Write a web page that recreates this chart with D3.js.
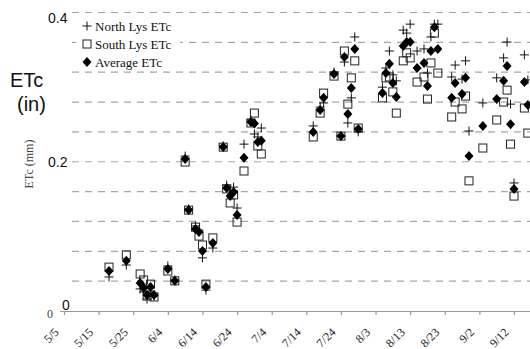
<!DOCTYPE html>
<html>
<head>
<meta charset="utf-8">
<script src="https://cdn.jsdelivr.net/npm/d3@7"></script>
<style>
body { margin: 0; background: #fff; }
svg { display: block; }
</style>
</head>
<body>
<svg id="chart" width="530" height="349"></svg>
<script>
// daily ETc in mm
var dates = ['5/18','5/23','5/27','5/28','5/29','5/30','5/31','6/4','6/6','6/9','6/10','6/12','6/13','6/14','6/15','6/17',
  '6/20','6/21','6/22','6/23','6/24','6/26','6/28','6/29','6/30','7/1',
  '7/16','7/18','7/19','7/22','7/24','7/25','7/26','7/27','7/28','7/29',
  '8/5','8/6','8/7','8/8','8/9','8/11','8/12','8/13','8/15','8/17','8/18','8/19','8/20','8/21',
  '8/25','8/26','8/28','8/29','8/30','9/3','9/7','9/9','9/10','9/11','9/12','9/15','9/16']
var north = [1.14,1.54,0.74,0.64,0.40,0.67,0.50,1.51,1.04,5.19,3.42,2.85,2.71,1.78,0.70,2.11,
  5.53,4.22,4.05,4.15,3.45,5.59,6.40,5.93,5.83,6.13,
  6.20,6.83,6.97,8.01,5.86,8.34,6.30,7.14,9.18,6.00,
  7.50,8.14,8.71,7.91,7.71,9.41,9.31,9.61,8.71,8.78,7.97,9.18,9.61,9.61,
  7.84,8.24,7.77,8.38,6.03,6.97,7.81,8.48,9.01,6.93,4.29,8.58,7.74]
var south = [1.47,1.88,1.24,1.04,0.50,0.90,0.47,1.34,1.01,4.99,3.38,2.81,2.51,2.21,0.90,2.45,
  5.49,4.09,3.62,3.89,2.98,4.69,6.30,6.63,5.53,5.26,
  5.83,6.63,7.30,7.87,5.86,8.71,6.93,7.81,8.38,6.13,
  7.14,7.81,7.84,7.34,6.63,8.38,8.65,8.48,7.67,7.84,7.10,8.31,9.31,7.97,
  6.50,7.00,6.77,7.20,4.36,5.46,6.40,7.00,7.40,5.59,3.85,6.80,5.96]
var average = [1.34,1.68,0.94,0.77,0.54,0.80,0.54,1.41,1.01,5.09,3.38,2.75,2.65,2.01,0.80,2.28,
  5.49,4.12,3.85,3.99,3.22,5.13,6.33,6.28,5.66,5.70,
  6.00,6.73,7.14,7.94,5.86,8.51,6.60,7.47,8.78,6.10,
  7.30,7.97,8.28,7.64,7.17,8.88,9.01,9.01,8.14,8.31,7.54,8.71,9.51,8.78,
  7.14,7.64,7.27,7.81,5.19,6.20,7.10,7.71,8.21,6.26,4.09,7.67,6.90]

var xTicks = ['5/5','5/15','5/25','6/4','6/14','6/24','7/4','7/14','7/24','8/3','8/13','8/23','9/2','9/12']
var gridMM = [1,2,3,4,5,6,7,8,9,10]
var inchLabels = [{t:'0', mm:0, x:62, dy:-1}, {t:'0.2', mm:5.08, x:48, dy:8}, {t:'0.4', mm:10.16, x:48, dy:15}]
var legendNames = ['North Lys ETc','South Lys ETc','Average ETc']

var parse = d3.timeParse('%Y/%m/%d')
function toDate(s) { return parse('2005/' + s) }

var svg = d3.select('#chart')

var x = d3.scaleTime().domain([toDate('5/5'), toDate('9/12')]).range([64, 514])
var y = d3.scaleLinear().domain([0, 10]).range([311, 12.5])

// dashed grid
svg.append('g').selectAll('line').data(gridMM).enter().append('line')
    .attr('x1', 72).attr('x2', 530)
    .attr('y1', function(d){return y(d)}).attr('y2', function(d){return y(d)})
    .attr('stroke', '#a6a6a6').attr('stroke-width', 1.2)
    .attr('stroke-dasharray', '7,6')

// x axis
var xAxis = d3.axisBottom(x)
    .tickValues(xTicks.map(toDate))
    .tickSize(4)
    .tickFormat(function(d, i){return xTicks[i]})
var gx = svg.append('g').attr('transform', 'translate(0,' + y(0) + ')').call(xAxis)
gx.select('.domain').attr('d', 'M60,0.5H530').attr('stroke', '#999').attr('stroke-width', 1.2)
gx.selectAll('.tick line').attr('stroke', '#999').attr('stroke-width', 1.2)
gx.selectAll('.tick text')
    .attr('font-family', 'Liberation Serif, Times New Roman, serif')
    .attr('font-size', 12).attr('fill', '#222')
    .attr('text-anchor', 'end')
    .attr('dy', null).attr('y', null)
    .attr('transform', 'translate(-5,22) rotate(-45)')

// markers
var pts = dates.map(function(d, i){
    return {date: toDate(d), n: north[i], s: south[i], a: average[i]}
})

svg.append('g').selectAll('path').data(pts.filter(function(d){return d.n != null})).enter().append('path')
    .attr('d', 'M-4.5,0H4.5M0,-4.5V4.5')
    .attr('transform', function(d){return 'translate(' + x(d.date) + ',' + y(d.n) + ')'})
    .attr('stroke', '#111').attr('stroke-width', 1).attr('fill', 'none')

svg.append('g').selectAll('rect').data(pts.filter(function(d){return d.s != null})).enter().append('rect')
    .attr('x', function(d){return x(d.date) - 4}).attr('y', function(d){return y(d.s) - 4})
    .attr('width', 8).attr('height', 8)
    .attr('fill', 'none').attr('stroke', '#222').attr('stroke-width', 1)

svg.append('g').selectAll('path').data(pts.filter(function(d){return d.a != null})).enter().append('path')
    .attr('d', 'M0,-5L4.5,0L0,5L-4.5,0Z')
    .attr('transform', function(d){return 'translate(' + x(d.date) + ',' + y(d.a) + ')'})
    .attr('fill', '#000')

// legend
var lg = svg.append('g')
lg.append('rect').attr('x', 76).attr('y', 16).attr('width', 104).attr('height', 52).attr('fill', '#fff')
var rows = lg.selectAll('g.row').data(legendNames).enter().append('g')
    .attr('transform', function(d, i){return 'translate(87,' + (26 + i * 18) + ')'})
rows.append('text').attr('x', 8).attr('y', 4.5)
    .attr('font-family', 'Liberation Serif, Times New Roman, serif').attr('font-size', 13).attr('fill', '#111')
    .text(function(d){return d})
rows.filter(function(d, i){return i == 0}).append('path').attr('d', 'M-4.5,0H4.5M0,-4.5V4.5').attr('stroke', '#111')
rows.filter(function(d, i){return i == 1}).append('rect').attr('x', -4).attr('y', -4).attr('width', 8).attr('height', 8)
    .attr('fill', 'none').attr('stroke', '#222')
rows.filter(function(d, i){return i == 2}).append('path').attr('d', 'M0,-5L4.5,0L0,5L-4.5,0Z').attr('fill', '#000')

// original mm title, rotated
svg.append('text').attr('transform', 'translate(33,164) rotate(-90)')
    .attr('text-anchor', 'middle')
    .attr('font-family', 'Liberation Serif, Times New Roman, serif').attr('font-size', 12).attr('fill', '#444')
    .text('ETc (mm)')

// leftover of the old mm "0" label, mostly covered
svg.append('text').attr('x', 47).attr('y', 318)
    .attr('font-family', 'Liberation Serif, Times New Roman, serif').attr('font-size', 12).attr('fill', '#444')
    .text('0')
svg.append('rect').attr('x', 44).attr('y', 300).attr('width', 14).attr('height', 9).attr('fill', '#fff')

// inch overlay labels
svg.selectAll('text.inch').data(inchLabels).enter().append('text').attr('class', 'inch')
    .attr('x', function(d){return d.x}).attr('y', function(d){return y(d.mm) + d.dy})
    .attr('font-family', 'Liberation Sans, Arial, sans-serif').attr('font-size', 14).attr('fill', '#111')
    .text(function(d){return d.t})

svg.append('text').attr('x', 10).attr('y', 87)
    .attr('font-family', 'Liberation Sans, Arial, sans-serif').attr('font-size', 20).attr('fill', '#111')
    .text('ETc')
svg.append('text').attr('x', 17).attr('y', 111)
    .attr('font-family', 'Liberation Sans, Arial, sans-serif').attr('font-size', 20).attr('fill', '#111')
    .text('(in)')
</script>
</body>
</html>
